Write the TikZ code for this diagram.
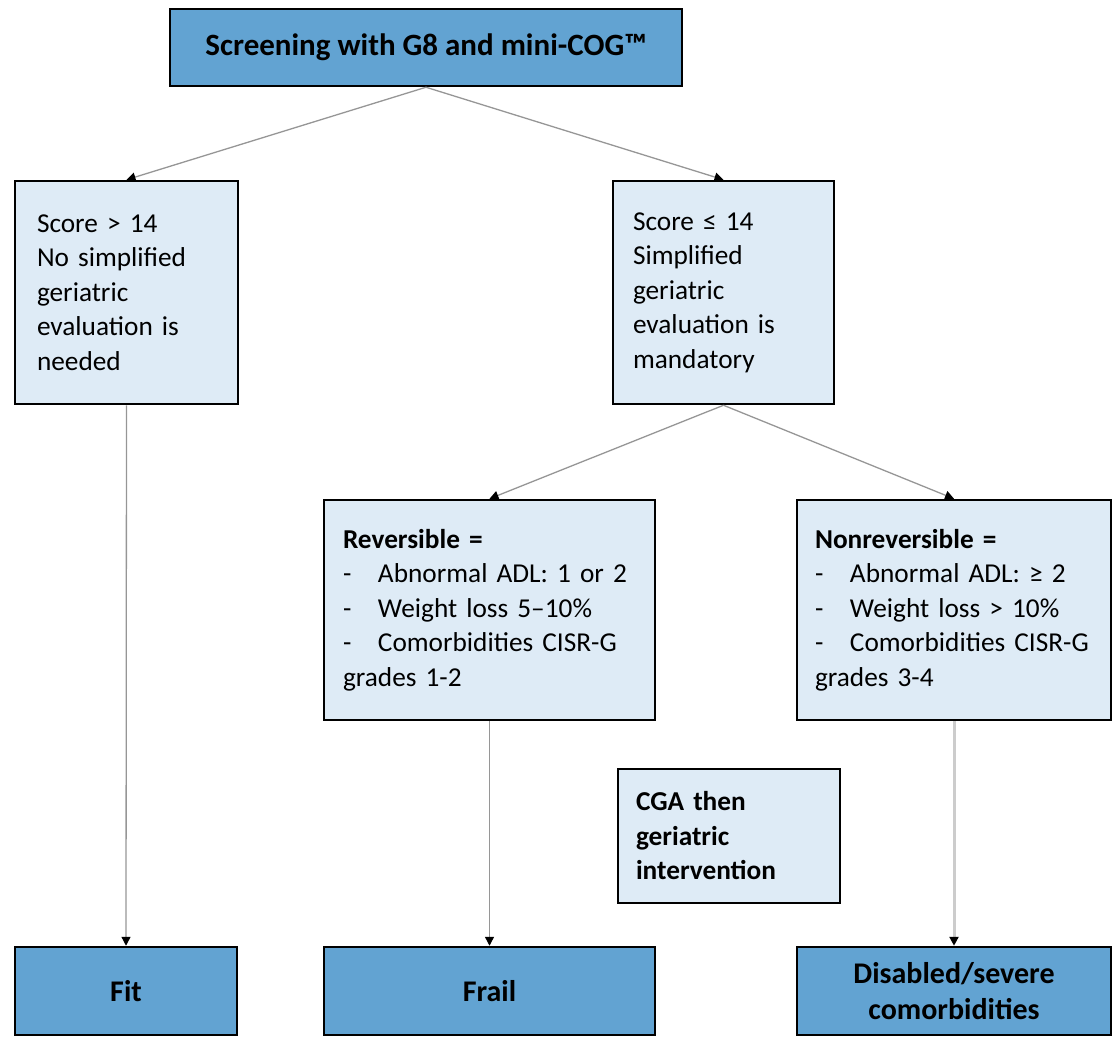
\documentclass[tikz,border=0pt]{standalone}
\usepackage{fontspec}
\setmainfont{Carlito}
\usetikzlibrary{arrows.meta,positioning}
\definecolor{boxDark}{RGB}{98,163,210}
\definecolor{boxLight}{RGB}{222,235,246}
\definecolor{linkGray}{RGB}{150,150,150}
\newcommand{\dashitem}[1]{\mbox{\makebox[35pt][l]{-}#1}}

\begin{document}
\begin{tikzpicture}[x=1pt,y=-1pt,
  outbox/.style={draw=black,line width=2.5pt,fill=boxDark,align=center,inner sep=0pt,
             font=\fontsize{30}{36}\selectfont\bfseries},
  infobox/.style={draw=black,line width=2.5pt,fill=boxLight,align=left,inner sep=0pt,
             font=\fontsize{27.3}{34.5}\selectfont},
  link/.style={draw=linkGray,line width=1.3pt,-{Triangle[width=9pt,length=9pt,black]}}]
  \useasboundingbox (0,0) rectangle (1114,1038);
  % screening and first split
  \node[outbox,minimum width=512pt,minimum height=77pt,font=\fontsize{31}{36}\selectfont\bfseries] (screen) at (426,47.5) {Screening with G8 and mini-COG™};
  \node[infobox,minimum width=223pt,minimum height=223pt,text width=179pt] (hi) at (126.5,292.5)
      {Score > 14\\No simplified\\geriatric\\evaluation is\\needed};
  \node[infobox,minimum width=221pt,minimum height=223pt,text width=181pt] (lo) at (723.5,292.5)
      {Score ≤ 14\\Simplified\\geriatric\\evaluation is\\mandatory};
  % reversible or not
  \node[infobox,minimum width=331pt,minimum height=220pt,text width=293pt] (rev) at (489.5,610)
      {\textbf{Reversible =}\\\dashitem{Abnormal ADL: 1 or 2}\\\dashitem{Weight loss 5–10\%}\\\dashitem{Comorbidities CISR-G}\\grades 1-2};
  \node[infobox,minimum width=314pt,minimum height=220pt,text width=278pt] (nonrev) at (954,610)
      {\textbf{Nonreversible =}\\\dashitem{Abnormal ADL: ≥ 2}\\\dashitem{Weight loss > 10\%}\\\dashitem{Comorbidities CISR-G}\\grades 3-4};
  \node[infobox,minimum width=222pt,minimum height=134pt,text width=186pt,font=\fontsize{27.3}{34.5}\selectfont\bfseries] (cga) at (729,836)
      {CGA then\\geriatric\\intervention};
  % outcomes
  \node[outbox,minimum width=222pt,minimum height=88pt] (fit) at (126,991) {Fit};
  \node[outbox,minimum width=331pt,minimum height=88pt] (frail) at (489.5,991) {Frail};
  \node[outbox,minimum width=314pt,minimum height=88pt] (dis) at (954,991) {Disabled/severe\\comorbidities};
  % connectors
  \draw[link] (screen.south) -- (hi.north);
  \draw[link] (screen.south) -- (lo.north);
  \draw[link] (lo.south) -- (rev.north);
  \draw[link] (lo.south) -- (nonrev.north);
  \draw[link] (hi.south) -- (fit.north);
  \draw[link] (rev.south) -- (frail.north);
  \draw[link,draw=gray!40,line width=3pt] (nonrev.south) -- (dis.north);
\end{tikzpicture}
\end{document}
